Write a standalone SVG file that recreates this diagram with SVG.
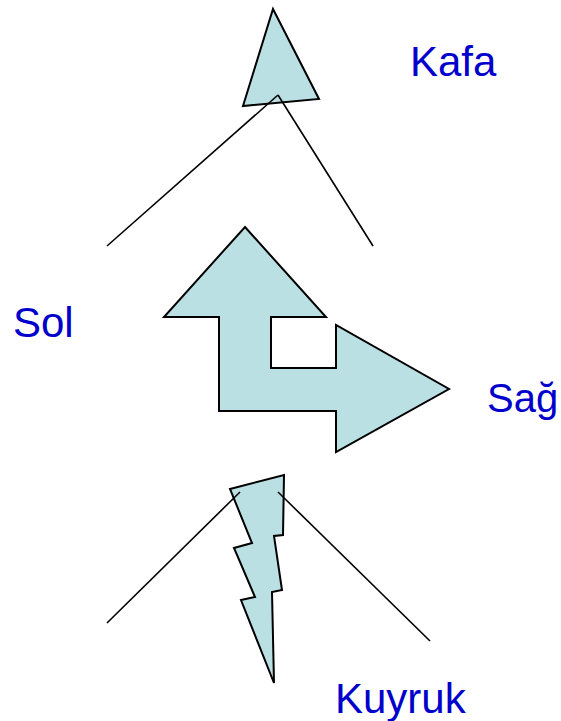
<svg xmlns="http://www.w3.org/2000/svg" width="561" height="721" viewBox="0 0 561 721">
<style>
.shape{fill:#BBE0E3;stroke:#000;stroke-width:2;stroke-linejoin:miter}
.conn line{stroke:#000;stroke-width:1.6}
.lbl{font-family:"Liberation Sans",Arial,sans-serif;font-size:42px;fill:#0000CC}
</style>
<rect width="561" height="721" fill="#fff"/>
<g id="kafa">
<polygon class="shape" points="273,9 319,99 243,106"/>
<text class="lbl" x="410" y="76">Kafa</text>
</g>
<g id="govde">
<polygon class="shape" points="245,227 326,317 271,317 271,368 336,368 336,325 449,389 336,452 336,411 219,411 219,317 164,317"/>
</g>
<g id="kuyruk">
<polygon class="shape" points="230,489 284,475 283,535 274,536 282,590 272,592 274,683 241,600 255,597 234,548 252,543"/>
<text class="lbl" x="335" y="713">Kuyruk</text>
</g>
<g id="sol"><text class="lbl" x="13" y="337">Sol</text></g>
<g id="sag"><text class="lbl" x="487" y="412" style="font-size:40px">Sağ</text></g>
<g id="connectors" class="conn">
<line x1="278" y1="95" x2="107" y2="246"/>
<line x1="278" y1="95" x2="373" y2="246"/>
<line x1="240" y1="492" x2="107" y2="623"/>
<line x1="278" y1="492" x2="430" y2="641"/>
</g>
</svg>
